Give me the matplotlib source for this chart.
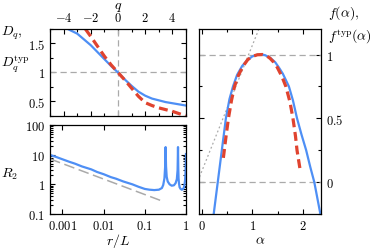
import numpy as np
import matplotlib
matplotlib.use("Agg")
import matplotlib.pyplot as plt
from matplotlib.ticker import FixedLocator, FixedFormatter, MultipleLocator, LogLocator, NullFormatter

plt.rcParams['font.family'] = 'serif'
plt.rcParams['font.serif'] = ['cmr10', 'DejaVu Serif']
plt.rcParams['mathtext.fontset'] = 'cm'
plt.rcParams['axes.unicode_minus'] = False

blue = '#4e8ff5'
red = '#e0432f'
grey = '#aaaaaa'

### data ###
# generalized dimensions D_q and D_q^typ
q_D = [-3.7, -3.0, -2.5, -2.0, -1.5, -1.0, -0.5, 0.0, 0.5, 1.0, 1.5, 2.0, 2.5, 3.0, 3.5, 4.0, 4.5, 5.0]
Dq = [1.75, 1.67, 1.57, 1.47, 1.35, 1.23, 1.11, 1.0, 0.88, 0.77, 0.67, 0.60, 0.55, 0.52, 0.49, 0.47, 0.45, 0.43]
q_T = [-2.4, -2.0, -1.5, -1.0, -0.5, 0.0, 0.5, 1.0, 1.5, 2.0, 2.5, 3.0, 3.5, 4.0, 4.5, 5.0]
Dtyp = [1.75, 1.62, 1.45, 1.28, 1.13, 1.0, 0.87, 0.73, 0.59, 0.48, 0.43, 0.39, 0.36, 0.33, 0.29, 0.25]

# correlation function R_2(r/L)
rL = [5e-4, 7e-4, 0.001, 0.0015, 0.002, 0.003, 0.005, 0.007, 0.01, 0.015, 0.02, 0.03, 0.05,
      0.07, 0.1, 0.13, 0.17, 0.22, 0.26, 0.28, 0.30, 0.312, 0.32, 0.328, 0.34, 0.36,
      0.40, 0.45, 0.51, 0.56, 0.60, 0.625, 0.64, 0.65, 0.66, 0.675, 0.70, 0.74, 0.79,
      0.84, 0.88, 0.92, 0.95, 0.97, 0.985, 1.0]
R2 = [9.8, 8.4, 7.0, 5.7, 5.0, 4.0, 3.2, 2.6, 2.2, 1.75, 1.55, 1.25, 1.0,
      0.83, 0.70, 0.66, 0.64, 0.66, 0.75, 0.95, 1.6, 4.0, 18.0, 4.0, 1.8, 1.25,
      1.0, 0.9, 0.93, 1.1, 1.5, 3.0, 18.0, 3.5, 1.6, 1.1, 0.8, 0.7, 0.66,
      0.68, 0.75, 0.95, 1.4, 2.3, 4.5, 10.5]
fit_r = [5e-4, 0.27]
fit_R = [7.2, 0.27]

# multifractal spectra f(alpha) and f^typ(alpha)
alpha_f = [0.24, 0.32, 0.40, 0.48, 0.55, 0.62, 0.70, 0.80, 0.90, 1.0, 1.1, 1.17, 1.25, 1.35,
           1.45, 1.52, 1.60, 1.72, 1.80, 1.88, 1.97, 2.06, 2.14, 2.22, 2.34]
f_alpha = [-0.25, 0.0, 0.25, 0.5, 0.65, 0.75, 0.84, 0.91, 0.955, 0.985, 0.998, 1.0, 0.995, 0.975,
           0.94, 0.9, 0.85, 0.75, 0.64, 0.5, 0.37, 0.25, 0.12, 0.0, -0.25]
alpha_t = [0.43, 0.48, 0.53, 0.59, 0.65, 0.73, 0.82, 0.91, 1.0, 1.1, 1.2, 1.28, 1.35, 1.42,
           1.49, 1.58, 1.66, 1.74, 1.80, 1.85, 1.88, 1.94]
f_typ = [0.19, 0.35, 0.5, 0.64, 0.75, 0.84, 0.91, 0.96, 0.985, 0.998, 1.0, 0.99, 0.97, 0.94,
         0.9, 0.83, 0.75, 0.63, 0.5, 0.36, 0.25, 0.1]
diag_a = [-0.04, 1.13]
diag_f = [0.04, 1.2]

### figure ###
fig = plt.figure(figsize=(3.74, 2.51), dpi=100)
ax1 = fig.add_axes([0.1337, 0.5339, 0.3636, 0.3466])
ax2 = fig.add_axes([0.1337, 0.1434, 0.3636, 0.3546])
ax3 = fig.add_axes([0.532, 0.1434, 0.326, 0.7371])

def style(ax):
    ax.tick_params(which='both', direction='in', top=True, right=True, labelsize=9, width=0.8)
    ax.tick_params(which='major', length=3.5)
    ax.tick_params(which='minor', length=2)
    for s in ax.spines.values():
        s.set_linewidth(0.9)

# top left
ax1.axvline(0, color=grey, ls=(0, (5, 3)), lw=0.9)
ax1.axhline(1, color=grey, ls=(0, (5, 3)), lw=0.9)
ax1.plot(q_D, Dq, color=blue, lw=1.6)
ax1.plot(q_T, Dtyp, color=red, lw=2.3, ls=(0, (2.8, 1.5)))
ax1.set_xlim(-5, 5)
ax1.set_ylim(0.25, 1.75)
style(ax1)
ax1.tick_params(labelbottom=False, labeltop=True)
ax1.xaxis.set_major_locator(FixedLocator([-4, -2, 0, 2, 4]))
ax1.xaxis.set_major_formatter(FixedFormatter(['$-4$', '$-2$', '$0$', '$2$', '$4$']))
ax1.xaxis.set_minor_locator(MultipleLocator(1))
ax1.yaxis.set_major_locator(FixedLocator([0.5, 1, 1.5]))
ax1.yaxis.set_major_formatter(FixedFormatter(['$0.5$', '$1$', '$1.5$']))
ax1.yaxis.set_minor_locator(MultipleLocator(0.25))

# bottom left
ax2.plot(fit_r, fit_R, color=grey, lw=1.1, ls=(0, (7, 3)))
ax2.plot(rL, R2, color=blue, lw=1.6)
ax2.set_xscale('log')
ax2.set_yscale('log')
ax2.set_xlim(5e-4, 1)
ax2.set_ylim(0.1, 100)
style(ax2)
ax2.xaxis.set_major_locator(FixedLocator([0.001, 0.01, 0.1, 1]))
ax2.xaxis.set_major_formatter(FixedFormatter(['$0.001$', '$0.01$', '$0.1$', '$1$']))
ax2.yaxis.set_major_locator(FixedLocator([0.1, 1, 10, 100]))
ax2.yaxis.set_major_formatter(FixedFormatter(['$0.1$', '$1$', '$10$', '$100$']))
ax2.xaxis.set_minor_locator(LogLocator(subs=np.arange(2, 10)))
ax2.yaxis.set_minor_locator(LogLocator(subs=np.arange(2, 10)))
ax2.xaxis.set_minor_formatter(NullFormatter())
ax2.yaxis.set_minor_formatter(NullFormatter())

# right panel
ax3.axhline(1, color=grey, ls=(0, (5, 3)), lw=0.9)
ax3.axhline(0, color=grey, ls=(0, (5, 3)), lw=0.9)
ax3.plot(diag_a, diag_f, color=grey, lw=0.9, ls=(0, (1.5, 2)))
ax3.plot(alpha_f, f_alpha, color=blue, lw=1.6)
ax3.plot(alpha_t, f_typ, color=red, lw=2.3, ls=(0, (2.8, 1.5)))
ax3.set_xlim(-0.05, 2.35)
ax3.set_ylim(-0.25, 1.2)
style(ax3)
ax3.tick_params(labelleft=False, labelright=True)
ax3.xaxis.set_major_locator(FixedLocator([0, 1, 2]))
ax3.xaxis.set_major_formatter(FixedFormatter(['$0$', '$1$', '$2$']))
ax3.xaxis.set_minor_locator(MultipleLocator(0.5))
ax3.yaxis.set_major_locator(FixedLocator([0, 0.5, 1]))
ax3.yaxis.set_major_formatter(FixedFormatter(['$0$', '$0.5$', '$1$']))
ax3.yaxis.set_minor_locator(MultipleLocator(0.25))

# labels
fig.text(118/374, 1-7/251, '$q$', ha='center', va='center', fontsize=10)
fig.text(118/374, 1-241/251, '$r/L$', ha='center', va='center', fontsize=10)
fig.text(260/374, 1-241/251, r'$\alpha$', ha='center', va='center', fontsize=10)
fig.text(0.003, 1-33/251, '$D_q,$', ha='left', va='center', fontsize=10)
fig.text(0.003, 1-64/251, r'$D_q^{\rm typ}$', ha='left', va='center', fontsize=10)
fig.text(0.003, 1-174/251, '$R_2$', ha='left', va='center', fontsize=10)
fig.text(328/374, 1-13/251, r'$f(\alpha),$', ha='left', va='center', fontsize=10)
fig.text(328/374, 1-37/251, r'$f^{\rm typ}(\alpha)$', ha='left', va='center', fontsize=10)

fig.savefig('out.png', dpi=100)
